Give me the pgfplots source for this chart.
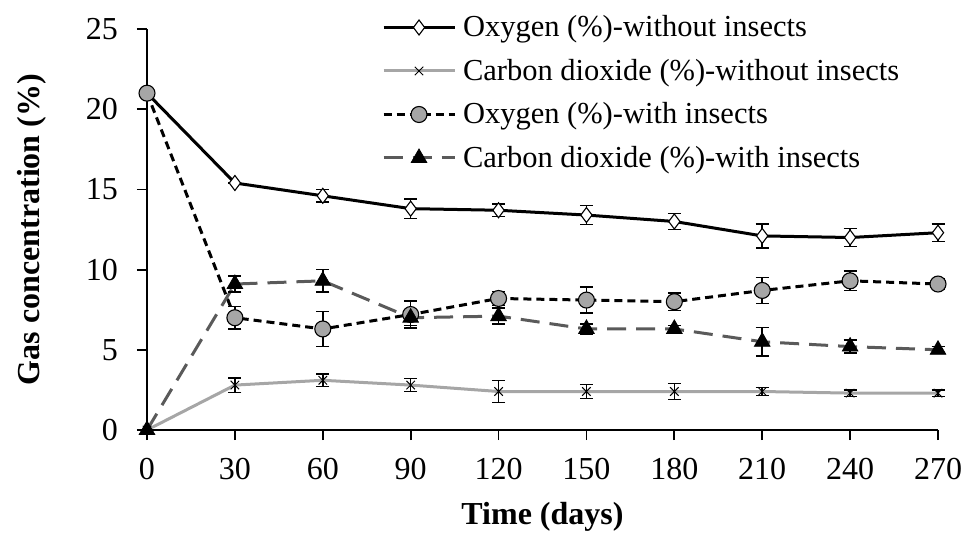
\documentclass[border=0pt]{standalone}
\usepackage{fontspec}
\setmainfont{Liberation Serif}
\usepackage{pgfplots}
\pgfplotsset{compat=1.18}
\usepackage{pgfplotstable}

\definecolor{lgray}{HTML}{A6A6A6}
\definecolor{dgray}{HTML}{5A5A5A}

\pgfplotstableread{
x y e
0 21 0
30 15.4 0
60 14.6 0.4
90 13.8 0.6
120 13.7 0.4
150 13.4 0.6
180 13.0 0.5
210 12.1 0.75
240 12.0 0.55
270 12.3 0.55
}\oxwo

\pgfplotstableread{
x y e
0 0 0
30 2.8 0.45
60 3.1 0.4
90 2.8 0.4
120 2.4 0.7
150 2.4 0.45
180 2.4 0.5
210 2.4 0.25
240 2.3 0.2
270 2.3 0.2
}\cowo

\pgfplotstableread{
x y e
0 21 0
30 7.0 0.7
60 6.3 1.1
90 7.2 0.85
120 8.2 0.45
150 8.1 0.8
180 8.0 0.55
210 8.7 0.8
240 9.3 0.6
270 9.1 0.3
}\oxwi

\pgfplotstableread{
x y e
0 0 0
30 9.1 0.5
60 9.3 0.7
90 7.0 0.5
120 7.1 0.5
150 6.3 0.3
180 6.3 0.2
210 5.5 0.9
240 5.2 0.4
270 5.0 0.2
}\cowi

\begin{document}
\begin{tikzpicture}
\path[use as bounding box] (-147bp,-103bp) rectangle (816bp,430bp);
\begin{axis}[
  at={(0,0)}, anchor=origin,
  scale only axis, width=791bp, height=401bp,
  xmin=0, xmax=270, ymin=0, ymax=25,
  clip=false,
  axis lines=left,
  axis line style={-, line width=1.8bp, black},
  xtick={0,30,...,270}, ytick={0,5,...,25},
  tick align=outside, major tick length=10bp,
  tick style={line width=1.8bp, black},
  /pgf/number format/assume math mode=true,
  tick label style={font=\fontsize{32bp}{36bp}\selectfont, inner sep=0pt},
  xticklabel style={anchor=north, yshift=-18bp},
  yticklabel style={anchor=east, xshift=-19bp},
  label style={font=\fontsize{32bp}{36bp}\selectfont\bfseries},
  xlabel={Time (days)},
  ylabel={Gas concentration (\%)},
  xlabel style={at={(axis description cs:0.5,-0.236)}, anchor=base, inner sep=0pt},
  ylabel style={at={(axis description cs:-0.1454,0.5)}, anchor=center, inner sep=0pt},
  legend style={at={(axis description cs:0.2971,1.058)}, anchor=north west,
    draw=none, fill=none, inner sep=0pt, outer sep=0pt, row sep=0pt, column sep=7bp,
    font=\fontsize{30.5bp}{36bp}\selectfont,
    nodes={inner sep=0pt, text height=31bp, text depth=12.5bp}},
  legend cell align=left,
  legend image code/.code={\draw[mark repeat=2,mark phase=2,#1] plot coordinates {(0bp,0bp)(35.5bp,0bp)(71bp,0bp)};},
]
\addplot[black, line width=3bp, mark=diamond*, mark size=7.5bp,
  mark options={solid, fill=white, draw=black, line width=1.1bp},
  error bars/.cd, y dir=both, y explicit,
  error bar style={line width=1.5bp, black, solid},
  error mark options={rotate=90, mark size=6.5bp, line width=1.5bp, black}]
  table[x=x, y=y, y error=e] {\oxwo};
\addlegendentry{Oxygen (\%)-without insects}

\addplot[lgray, line width=3bp, mark=x, mark size=6bp,
  mark options={solid, draw=black, line width=1bp},
  error bars/.cd, y dir=both, y explicit,
  error bar style={line width=1.5bp, black, solid},
  error mark options={rotate=90, mark size=6.5bp, line width=1.5bp, black}]
  table[x=x, y=y, y error=e] {\cowo};
\addlegendentry{Carbon dioxide (\%)-without insects}

\addplot[black, line width=3bp, dash pattern=on 8bp off 5bp, mark=*, mark size=8bp,
  mark options={solid, fill=lgray, draw=black, line width=1.1bp},
  error bars/.cd, y dir=both, y explicit,
  error bar style={line width=1.5bp, black, solid},
  error mark options={rotate=90, mark size=6.5bp, line width=1.5bp, black}]
  table[x=x, y=y, y error=e] {\oxwi};
\addlegendentry{Oxygen (\%)-with insects}

\addplot[dgray, line width=3bp, dash pattern=on 19bp off 10bp, mark=triangle*, mark size=9bp,
  mark options={solid, fill=black, draw=black, line width=0.8bp},
  error bars/.cd, y dir=both, y explicit,
  error bar style={line width=1.5bp, black, solid},
  error mark options={rotate=90, mark size=6.5bp, line width=1.5bp, black}]
  table[x=x, y=y, y error=e] {\cowi};
\addlegendentry{Carbon dioxide (\%)-with insects}
\end{axis}
\end{tikzpicture}
\end{document}
